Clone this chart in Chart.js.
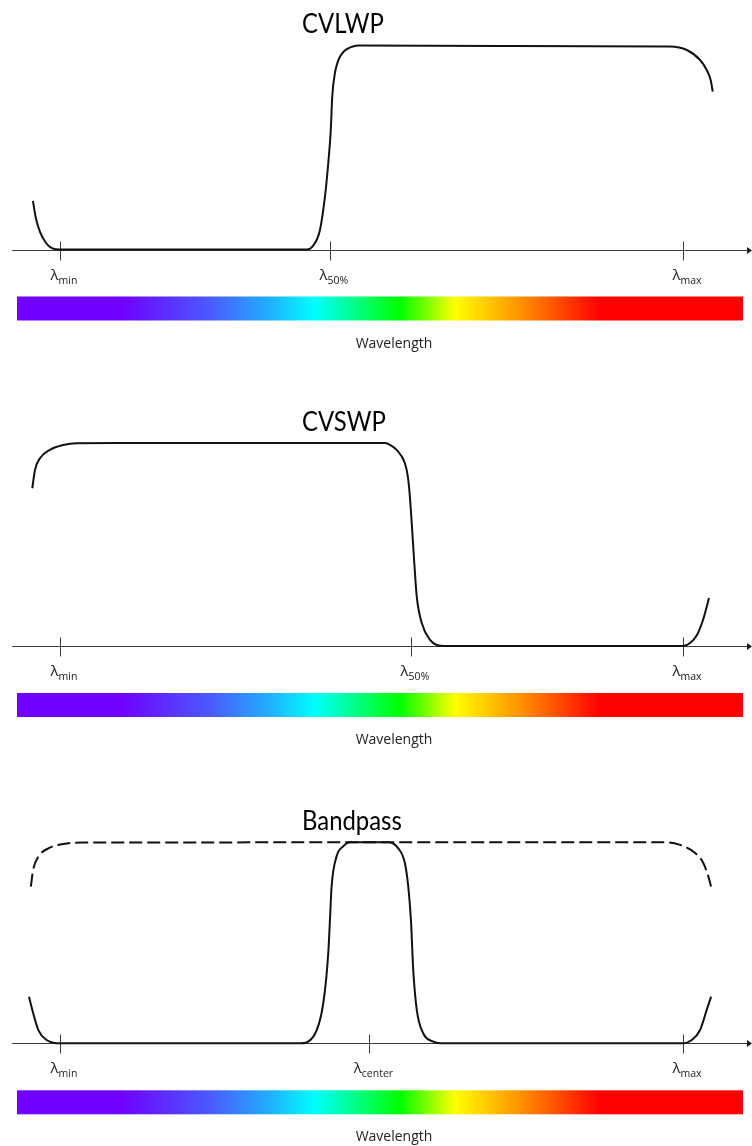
<!DOCTYPE html>
<html>
<head>
<meta charset="utf-8">
<script src="https://cdn.jsdelivr.net/npm/chart.js@4/dist/chart.umd.min.js"></script>
<style>
  html, body { margin: 0; padding: 0; background: #ffffff; }
  body { width: 752px; height: 1146px; overflow: hidden; position: relative; }
  .panel { position: absolute; left: 0; width: 752px; }
</style>
</head>
<body>
<div class="panel" style="top:0px"><canvas id="cvlwp" width="752" height="397"></canvas></div>
<div class="panel" style="top:397px"><canvas id="cvswp" width="752" height="397"></canvas></div>
<div class="panel" style="top:794px"><canvas id="bandpass" width="752" height="352"></canvas></div>

<script>
// Filter transmission curves: wavelength (nm) vs transmission (%)
const cvlwpWavelength = [387.0, 388.4, 390.4, 393.3, 396.1, 400, 518.8, 521.8, 525.2, 527.6, 529.2, 530.4, 531.1, 532.4, 533.5, 534.8, 536.8, 538.8, 541.0, 543.6, 611.9, 693.7, 701.8, 708.2, 711.4, 713.3, 714.3];
const cvlwpTransmission = [23.8, 15.4, 8.6, 3.2, 0.7, 0, 0, 1.7, 9.6, 25.9, 42.4, 58.6, 74.9, 86.5, 91.2, 94.5, 97.2, 98.6, 99.5, 100, 99.8, 99.5, 97.8, 92.9, 88.0, 83.1, 77.4];

const cvswpWavelength = [386.7, 388.0, 390.4, 395.2, 401.6, 408.0, 428.9, 556.5, 559.1, 562.1, 566.1, 567.6, 568.5, 569.6, 570.6, 571.8, 574.2, 578.2, 581.4, 585.4, 700, 703.4, 706.7, 709.6, 712.5];
const cvswpTransmission = [77.7, 86.7, 92.5, 96.6, 99.0, 99.9, 100, 100, 99.0, 96.6, 90.0, 82.8, 73.5, 57.0, 41.0, 24.3, 11.3, 3.0, 0.5, 0, 0, 1.5, 5.4, 12.8, 23.6];

const bandpassWavelength = [385.1, 387.1, 389.6, 393.6, 396.8, 400, 515.6, 522.0, 526.8, 529.2, 530.0, 530.8, 533.2, 536.4, 539.6, 558.1, 562.9, 566.1, 567.7, 569.0, 570.1, 571.8, 574.9, 579.8, 583.0, 700, 704.2, 708.2, 711.4, 713.5];
const bandpassTransmission = [23.2, 15.1, 6.6, 1.6, 0.3, 0, 0, 3.3, 20.0, 45.0, 61.3, 78.0, 93.0, 98.0, 100, 100, 97.0, 89.6, 78.0, 61.3, 36.5, 16.6, 5.0, 0.8, 0, 0, 1.6, 6.6, 16.6, 23.2];

// Blocking-range envelope shown dashed behind the bandpass
const envelopeWavelength = [386.0, 387.1, 389.6, 394.4, 401.6, 411.2, 692.2, 698.6, 705.0, 709.8, 712.2, 713.5];
const envelopeTransmission = [78.0, 86.3, 92.8, 97.0, 99.2, 99.9, 100, 98.7, 95.3, 89.6, 82.9, 78.0];

// Axis marks
const panelTitles = ['CVLWP', 'CVSWP', 'Bandpass'];
const cvlwpTicks = [400, 530, 700];
const cvswpTicks = [400, 569, 700];
const bandpassTicks = [400, 549, 700];
const cvlwpTickSubs = ['min', '50%', 'max'];
const cvswpTickSubs = ['min', '50%', 'max'];
const bandpassTickSubs = ['min', 'center', 'max'];
const axisLabel = 'Wavelength';

// Visible spectral scale (fractions along the colour bar)
const spectrumStops = [0, 0.142, 0.266, 0.349, 0.41, 0.528, 0.603, 0.707, 0.803, 1];
const spectrumColors = ['#7000ff', '#7000ff', '#4a5aff', '#20b0ff', '#00ffff', '#00ff00', '#ffff00', '#ff8000', '#ff0000', '#ff0000'];

const X_MIN = 375, X_MAX = 733.2, AXIS_START = 377;

function pts(xs, ys) { return xs.map((v, i) => ({ x: v, y: ys[i] })); }

const decorPlugin = {
  id: 'filterDecor',
  beforeDatasetsDraw(chart, args, opts) {
    const { ctx, scales: { x, y } } = chart;
    const base = Math.round(y.getPixelForValue(0)) + 0.5;
    const W = chart.width;
    ctx.save();
    ctx.strokeStyle = '#3a3a3a';
    ctx.lineWidth = 1;
    ctx.beginPath();
    ctx.moveTo(x.getPixelForValue(AXIS_START), base);
    ctx.lineTo(W - 4, base);
    opts.ticks.forEach(v => {
      const px = Math.round(x.getPixelForValue(v)) + 0.5;
      ctx.moveTo(px, base - 9);
      ctx.lineTo(px, base + 10);
    });
    ctx.stroke();
    ctx.fillStyle = '#1a1a1a';
    ctx.beginPath();
    ctx.moveTo(W, base);
    ctx.lineTo(W - 5, base - 3.5);
    ctx.lineTo(W - 5, base + 3.5);
    ctx.closePath();
    ctx.fill();
    ctx.restore();
  },
  afterDraw(chart, args, opts) {
    const { ctx, chartArea, scales: { x, y } } = chart;
    const base = y.getPixelForValue(0);
    ctx.save();
    // title, condensed to the narrow headline face
    ctx.fillStyle = '#000000';
    ctx.font = '27px Lato, "Open Sans", sans-serif';
    ctx.textBaseline = 'alphabetic';
    ctx.textAlign = 'left';
    const tw = ctx.measureText(opts.title).width;
    ctx.fillText(opts.title, 302, chartArea.top - 12.5, tw * 0.885);

    // tick labels: lambda with subscript
    ctx.fillStyle = '#222222';
    opts.ticks.forEach((v, i) => {
      const px = x.getPixelForValue(v);
      ctx.font = '15px "Open Sans", sans-serif';
      const wl = ctx.measureText('λ').width;
      ctx.font = '10.5px "Open Sans", sans-serif';
      const ws = ctx.measureText(opts.subs[i]).width;
      const left = px + 4 - (wl + ws) / 2;
      ctx.font = '15px "Open Sans", sans-serif';
      ctx.fillText('λ', left, base + 30);
      ctx.font = '10.5px "Open Sans", sans-serif';
      ctx.fillText(opts.subs[i], left + wl, base + 34);
    });

    // spectrum bar
    const bx0 = 17, bx1 = 743, by = base + 47, bh = 24;
    const g = ctx.createLinearGradient(bx0, 0, bx1, 0);
    spectrumStops.forEach((s, i) => g.addColorStop(s, spectrumColors[i]));
    ctx.fillStyle = g;
    ctx.fillRect(bx0, by, bx1 - bx0, bh);

    // axis caption
    ctx.fillStyle = '#222222';
    ctx.font = '14px "Open Sans", sans-serif';
    ctx.textAlign = 'center';
    ctx.fillText(axisLabel, 394, base + 98);
    ctx.restore();
  }
};

function makeChart(id, title, datasets, ticks, subs, padTop, padBottom) {
  return new Chart(document.getElementById(id), {
    type: 'line',
    data: { datasets },
    options: {
      responsive: false,
      animation: false,
      devicePixelRatio: 1,
      layout: { padding: { left: 8, right: 0, top: padTop, bottom: padBottom } },
      scales: {
        x: { type: 'linear', min: X_MIN, max: X_MAX, display: false },
        y: { type: 'linear', min: 0, max: 100, display: false }
      },
      plugins: {
        legend: { display: false },
        tooltip: { enabled: false },
        title: { display: false },
        filterDecor: { title, ticks, subs }
      },
      elements: { point: { radius: 0 } }
    },
    plugins: [decorPlugin]
  });
}

function curve(xs, ys, dashed) {
  return {
    data: pts(xs, ys),
    borderColor: '#111111',
    borderWidth: 2,
    borderDash: dashed ? [13, 5] : [],
    cubicInterpolationMode: 'monotone',
    fill: false,
    clip: false,
    pointRadius: 0
  };
}

makeChart('cvlwp', panelTitles[0], [curve(cvlwpWavelength, cvlwpTransmission)], cvlwpTicks, cvlwpTickSubs, 45.5, 147.5);
makeChart('cvswp', panelTitles[1], [curve(cvswpWavelength, cvswpTransmission)], cvswpTicks, cvswpTickSubs, 46, 148);
makeChart('bandpass', panelTitles[2], [
  curve(envelopeWavelength, envelopeTransmission, true),
  curve(bandpassWavelength, bandpassTransmission)
], bandpassTicks, bandpassTickSubs, 48.3, 102.7);
</script>
</body>
</html>
